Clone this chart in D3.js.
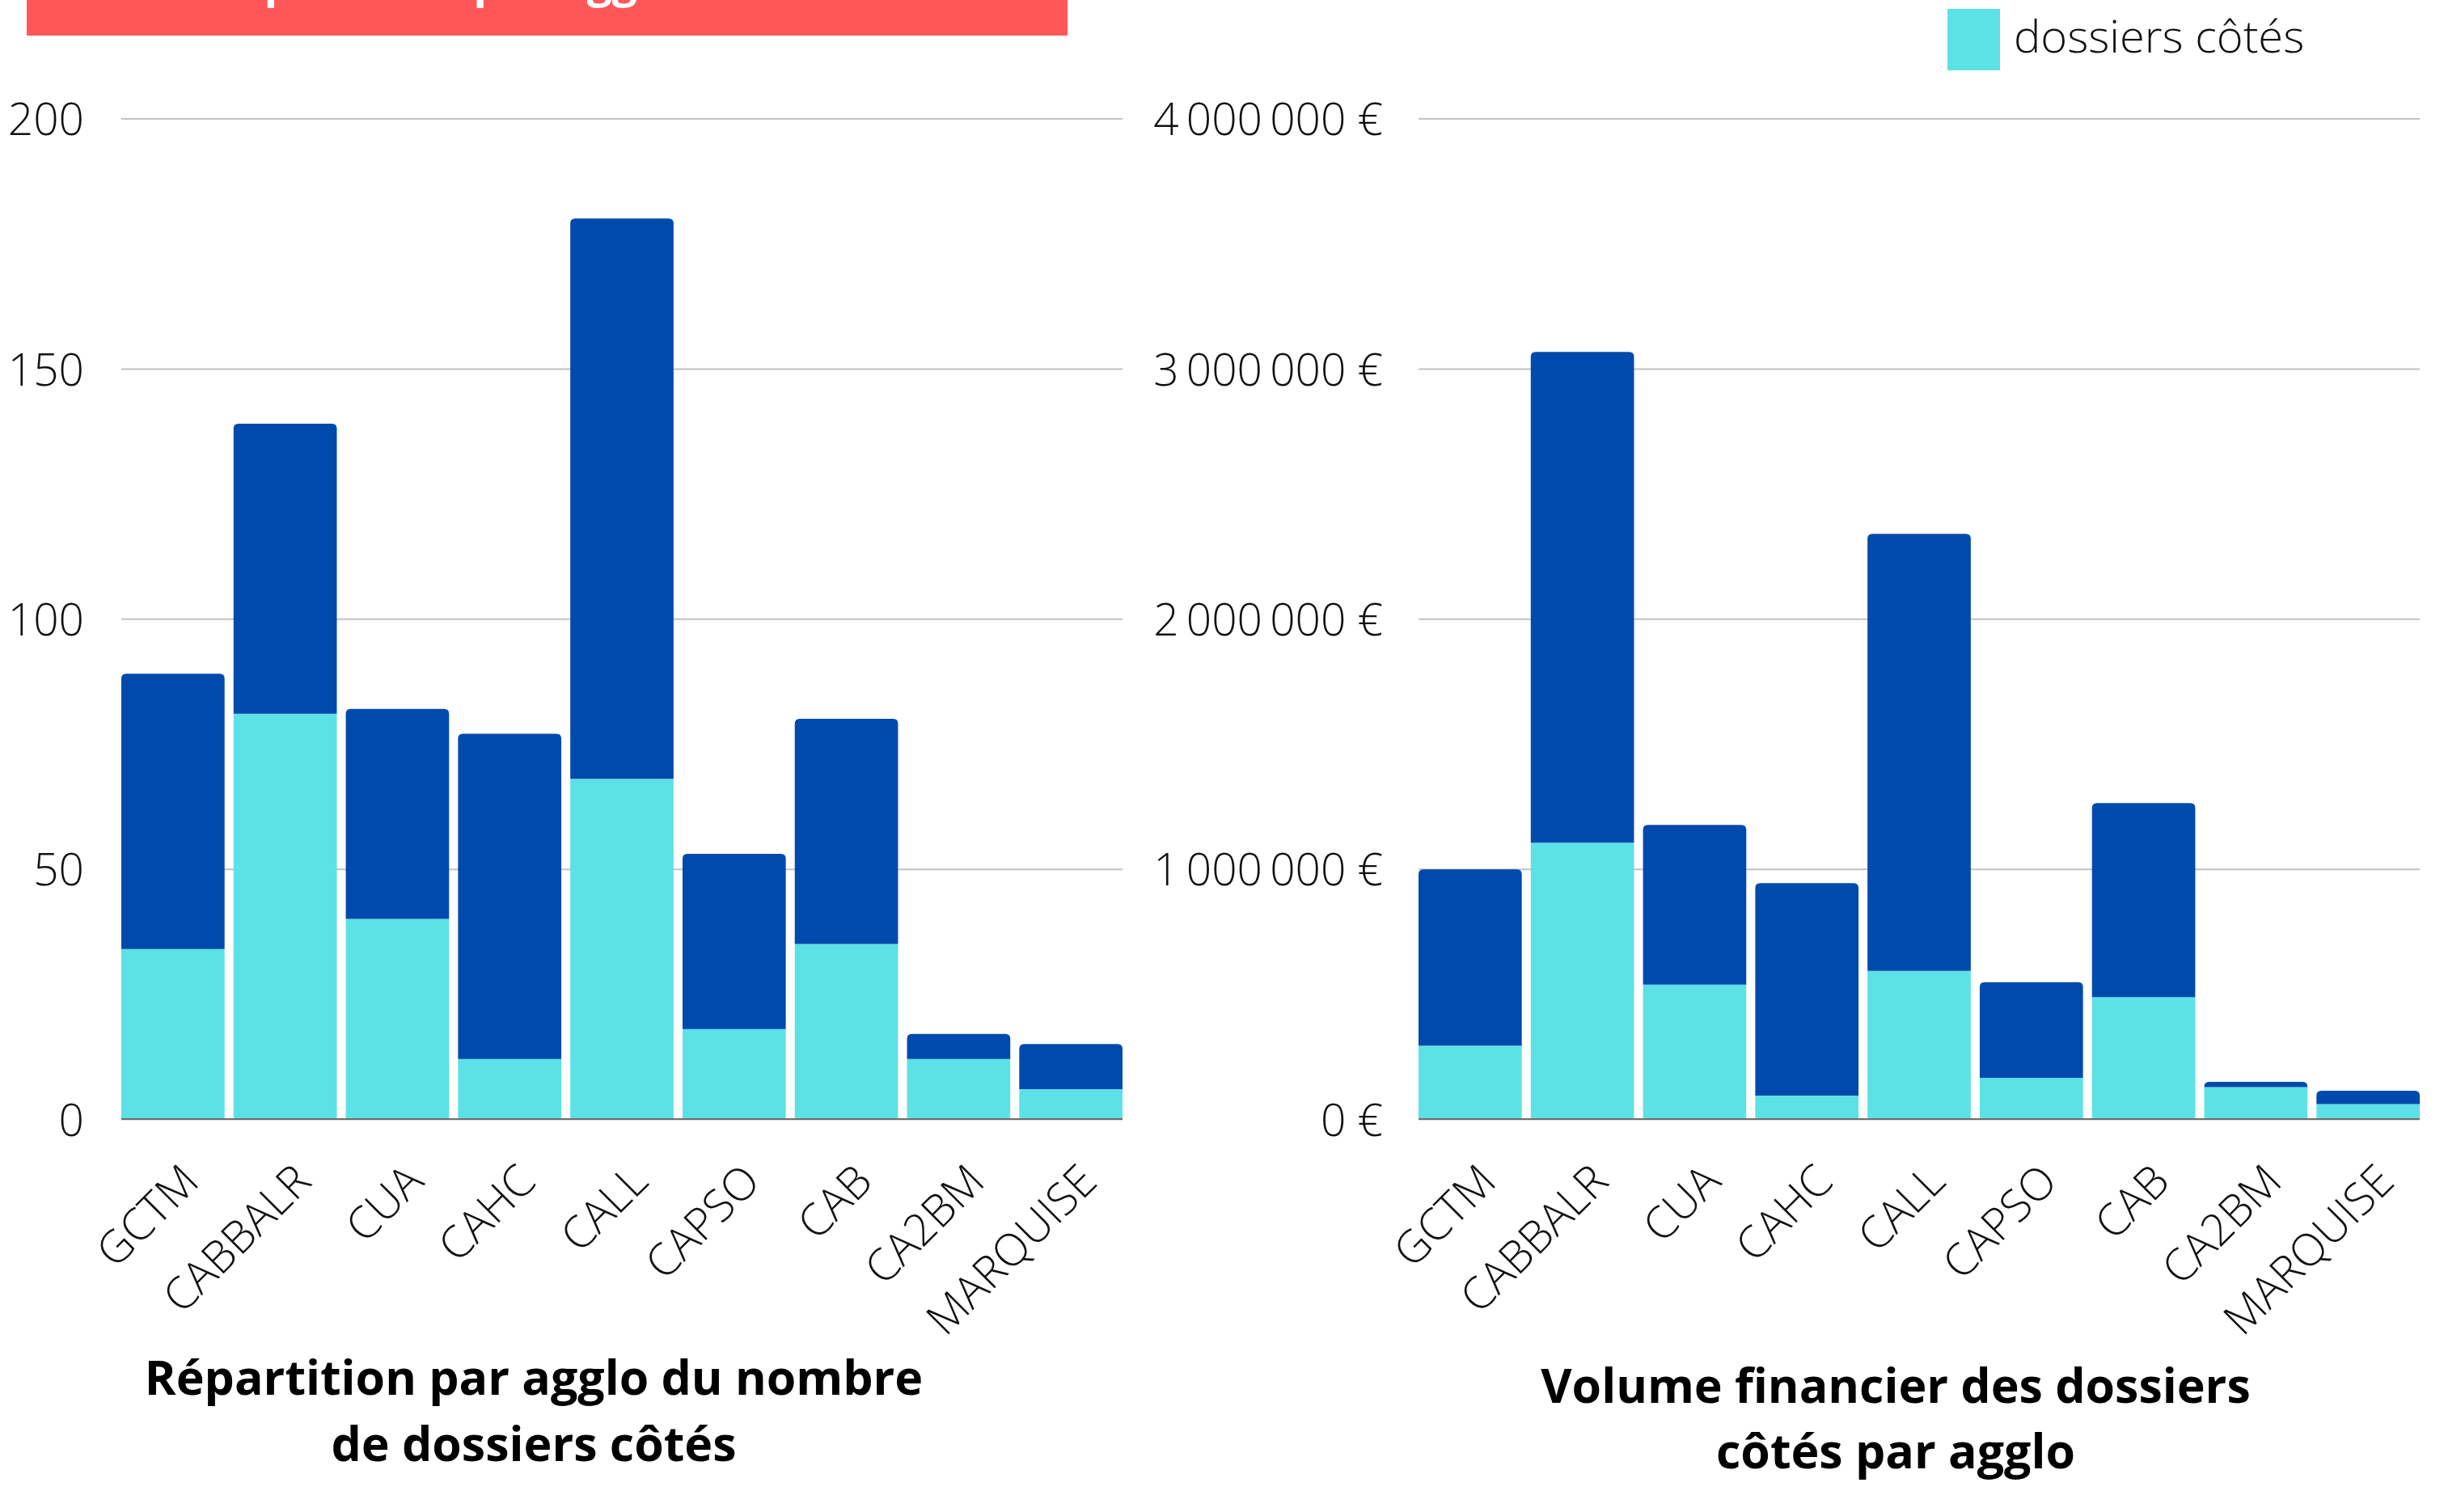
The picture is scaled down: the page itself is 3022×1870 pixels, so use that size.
<!DOCTYPE html>
<html>
<head>
<meta charset="utf-8">
<script src="https://cdn.jsdelivr.net/npm/d3@7/dist/d3.min.js"></script>
<style>
  html, body { margin: 0; padding: 0; background: #ffffff; }
  svg { display: block; }
  text { font-family: "Open Sans", "Noto Sans", sans-serif; }
</style>
</head>
<body>
<script>
// ---------- DATA ----------
const categories = ["GCTM", "CABBALR", "CUA", "CAHC", "CALL", "CAPSO", "CAB", "CA2BM", "MARQUISE"];
// Nombre de dossiers
const countCotes = [34, 81, 40, 12, 68, 18, 35, 12, 6];
const countTotal = [89, 139, 82, 77, 180, 53, 80, 17, 15];
// Volume financier (€)
const volumeCotes = [293000, 1105000, 537000, 94000, 592000, 165000, 487000, 128000, 60000];
const volumeTotal = [998000, 3067000, 1176000, 943000, 2339000, 547000, 1263000, 149000, 113000];
// Ticks
const countTicks = [0, 50, 100, 150, 200];
const volumeTicks = [0, 1000000, 2000000, 3000000, 4000000];
// Texts
const bannerText = "Répartition par agglomération";
const legendLabel = "dossiers côtés";
const leftTitle = ["Répartition par agglo du nombre", "de dossiers côtés"];
const rightTitle = ["Volume financier des dossiers", "côtés par agglo"];

// ---------- STYLE ----------
const COL_COTES = "#5ce1e6";
const COL_OTHER = "#004aad";
const COL_GRID = "#c2c2c2";
const COL_AXIS = "#6e6e6e";
const COL_BANNER = "#ff5757";

const W = 3022, H = 1870;
const svg = d3.select("body").append("svg").attr("width", W).attr("height", H);

const frLocale = d3.formatLocale({ decimal: ",", thousands: "\u2009", grouping: [3], currency: ["", " €"] });
const fmtEuro = d => frLocale.format(",.0f")(d) + " €";

// Banner (its title is cut off by the top edge, as in the original)
svg.append("rect").attr("x", 33).attr("y", 0).attr("width", 1287).attr("height", 44).attr("fill", COL_BANNER);
svg.append("text").attr("x", 676).attr("y", -3).attr("text-anchor", "middle")
  .attr("font-size", 55).attr("font-weight", 700).attr("fill", "#ffffff").text(bannerText);

// Legend
svg.append("rect").attr("x", 2408).attr("y", 11).attr("width", 65).attr("height", 76).attr("fill", COL_COTES);
svg.append("text").attr("x", 2490).attr("y", 65).attr("font-size", 56).attr("font-weight", 300)
  .attr("fill", "#111").text(legendLabel);

function topRoundedPath(x, y, w, h, r) {
  r = Math.min(r, h, w / 2);
  return `M${x},${y + h}V${y + r}Q${x},${y} ${x + r},${y}H${x + w - r}Q${x + w},${y} ${x + w},${y + r}V${y + h}Z`;
}

function drawChart(opts) {
  const { x0, x1, yTop, yBottom, cotes, total, ticks, domainMax, fmt, padLabel, title, titleX, titleY } = opts;
  const g = svg.append("g");
  const x = d3.scaleBand().domain(categories).range([x0, x1]).paddingInner(0.08).paddingOuter(0);
  const y = d3.scaleLinear().domain([0, domainMax]).range([yBottom, yTop]);

  // grid + y labels
  const yAxis = d3.axisLeft(y).tickValues(ticks).tickSize(-(x1 - x0)).tickPadding(padLabel).tickFormat(fmt);
  const ga = g.append("g").attr("transform", `translate(${x0},0)`).call(yAxis);
  ga.select(".domain").remove();
  ga.selectAll(".tick line").attr("stroke", COL_GRID).attr("stroke-width", 2);
  ga.selectAll(".tick text").attr("font-size", 55).attr("font-weight", 300).attr("fill", "#111")
    .attr("font-family", '"Open Sans", sans-serif').attr("dy", "0.37em");

  // stacked bars
  const rows = categories.map((c, i) => ({ cat: c, cotes: cotes[i], autres: total[i] - cotes[i] }));
  const stack = d3.stack().keys(["cotes", "autres"])(rows);
  const colors = { cotes: COL_COTES, autres: COL_OTHER };
  stack.forEach(layer => {
    g.append("g").selectAll("path").data(layer).join("path")
      .attr("fill", colors[layer.key])
      .attr("d", d => {
        const xx = x(d.data.cat), w = x.bandwidth();
        const yy = y(d[1]), h = y(d[0]) - y(d[1]);
        if (layer.key === "autres") return topRoundedPath(xx, yy, w, h, 6);
        return `M${xx},${yy}h${w}v${h}h${-w}Z`;
      });
  });

  // baseline
  g.append("line").attr("x1", x0).attr("x2", x1).attr("y1", y(0)).attr("y2", y(0))
    .attr("stroke", COL_AXIS).attr("stroke-width", 2);

  // x labels
  const xAxis = d3.axisBottom(x).tickSize(0);
  const gx = g.append("g").attr("transform", `translate(0,${y(0)})`).call(xAxis);
  gx.select(".domain").remove();
  gx.selectAll(".tick text")
    .attr("font-size", 55).attr("font-weight", 300).attr("fill", "#111")
    .attr("font-family", '"Open Sans", sans-serif')
    .attr("text-anchor", "end").attr("x", 0).attr("y", 0).attr("dy", 0)
    .attr("transform", "translate(35,80) rotate(-45)");

  // title
  const t = g.append("text").attr("text-anchor", "middle").attr("font-size", 59).attr("font-weight", 700).attr("fill", "#000");
  title.forEach((line, i) => {
    t.append("tspan").attr("x", titleX).attr("y", titleY[i]).text(line);
  });
}

drawChart({
  x0: 150, x1: 1388, yTop: 146.5, yBottom: 1384,
  cotes: countCotes, total: countTotal, ticks: countTicks, domainMax: 200,
  fmt: d3.format("d"), padLabel: 46,
  title: leftTitle, titleX: 660, titleY: [1725, 1807]
});

drawChart({
  x0: 1754, x1: 2992, yTop: 146.5, yBottom: 1384,
  cotes: volumeCotes, total: volumeTotal, ticks: volumeTicks, domainMax: 4000000,
  fmt: fmtEuro, padLabel: 44,
  title: rightTitle, titleX: 2344, titleY: [1735, 1816]
});
</script>
</body>
</html>
